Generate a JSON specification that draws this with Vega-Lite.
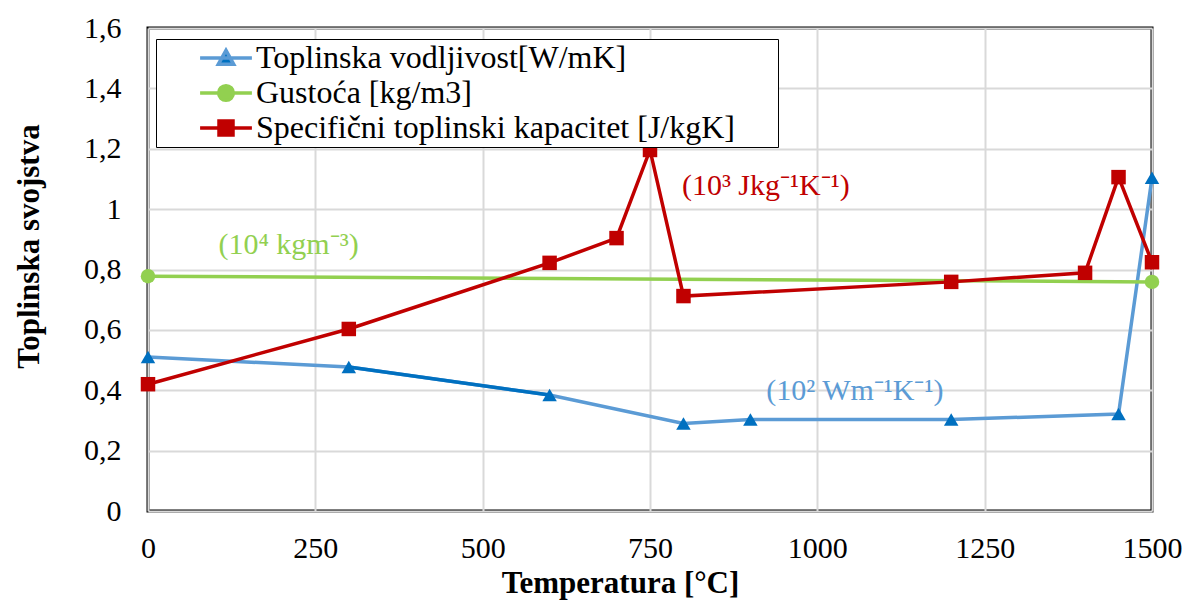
{
  "$schema": "https://vega.github.io/schema/vega-lite/v6.json",
  "width": 1004,
  "height": 483,
  "autosize": "none",
  "padding": {"left": 148, "top": 28, "right": 34, "bottom": 90},
  "background": "white",
  "config": {
    "font": "Liberation Serif",
    "view": {"stroke": "black", "strokeWidth": 3},
    "axis": {
      "labelFont": "Liberation Serif", "labelFontSize": 30, "labelColor": "black",
      "titleFont": "Liberation Serif", "titleFontSize": 31, "titleFontWeight": "bold", "titleColor": "black",
      "ticks": false, "tickSize": 0, "domain": false, "gridColor": "#d9d9d9", "gridWidth": 2,
      "labelFlush": false, "labelOverlap": false
    },
    "legend": {
      "orient": "none", "legendX": 8, "legendY": 11,
      "padding": 3, "rowPadding": 3,
      "strokeColor": "black", "fillColor": "white",
      "labelFont": "Liberation Serif", "labelFontSize": 32, "labelColor": "black", "labelLimit": 1000,
      "symbolSize": 196, "symbolOffset": 51, "labelOffset": 14, "symbolStrokeWidth": 3.5, "symbolOpacity": 1
    }
  },
  "datasets": {
    "main": [
      {"series": "Toplinska vodljivost[W/mK]", "T": 0, "value": 0.51},
      {"series": "Toplinska vodljivost[W/mK]", "T": 300, "value": 0.477},
      {"series": "Toplinska vodljivost[W/mK]", "T": 600, "value": 0.384},
      {"series": "Toplinska vodljivost[W/mK]", "T": 800, "value": 0.29},
      {"series": "Toplinska vodljivost[W/mK]", "T": 900, "value": 0.303},
      {"series": "Toplinska vodljivost[W/mK]", "T": 1200, "value": 0.303},
      {"series": "Toplinska vodljivost[W/mK]", "T": 1450, "value": 0.321},
      {"series": "Toplinska vodljivost[W/mK]", "T": 1500, "value": 1.104},
      {"series": "Gustoća [kg/m3]", "T": 0, "value": 0.778},
      {"series": "Gustoća [kg/m3]", "T": 1500, "value": 0.759},
      {"series": "Specifični toplinski kapacitet [J/kgK]", "T": 0, "value": 0.42},
      {"series": "Specifični toplinski kapacitet [J/kgK]", "T": 300, "value": 0.603},
      {"series": "Specifični toplinski kapacitet [J/kgK]", "T": 600, "value": 0.822},
      {"series": "Specifični toplinski kapacitet [J/kgK]", "T": 700, "value": 0.904},
      {"series": "Specifični toplinski kapacitet [J/kgK]", "T": 750, "value": 1.196},
      {"series": "Specifični toplinski kapacitet [J/kgK]", "T": 800, "value": 0.712},
      {"series": "Specifični toplinski kapacitet [J/kgK]", "T": 1200, "value": 0.759},
      {"series": "Specifični toplinski kapacitet [J/kgK]", "T": 1400, "value": 0.789},
      {"series": "Specifični toplinski kapacitet [J/kgK]", "T": 1450, "value": 1.106},
      {"series": "Specifični toplinski kapacitet [J/kgK]", "T": 1500, "value": 0.824}
    ],
    "notes": [
      {"series": "C", "T": 923, "value": 1.077, "label": "(10³ Jkg⁻¹K⁻¹)"},
      {"series": "B", "T": 210, "value": 0.881, "label": "(10⁴ kgm⁻³)"},
      {"series": "A", "T": 1056, "value": 0.397, "label": "(10² Wm⁻¹K⁻¹)"}
    ]
  },
  "layer": [
    {
      "data": {"name": "main"},
      "mark": {"type": "line", "strokeWidth": 3.5},
      "encoding": {
        "x": {
          "field": "T", "type": "quantitative",
          "scale": {"domain": [0, 1500], "nice": false, "zero": false},
          "axis": {
            "values": [0, 250, 500, 750, 1000, 1250, 1500], "format": "d",
            "title": "Temperatura [°C]", "labelPadding": 22,
            "titleX": 472, "titleY": 72, "titleBaseline": "middle", "titleAlign": "center"
          }
        },
        "y": {
          "field": "value", "type": "quantitative",
          "scale": {"domain": [0, 1.6], "nice": false},
          "axis": {
            "values": [0, 0.2, 0.4, 0.6, 0.8, 1, 1.2, 1.4, 1.6],
            "labelExpr": "replace(format(datum.value, '~g'), '.', ',')",
            "title": "Toplinska svojstva", "labelPadding": 27,
            "titleX": -119, "titleY": 218, "titleBaseline": "middle", "titleAlign": "center", "titleAngle": -90
          }
        },
        "color": {
          "field": "series", "type": "nominal",
          "scale": {
            "domain": ["Toplinska vodljivost[W/mK]", "Gustoća [kg/m3]", "Specifični toplinski kapacitet [J/kgK]"],
            "range": ["#5B9BD5", "#92D050", "#C00000"]
          },
          "legend": null
        }
      }
    },
    {
      "data": {"name": "main"},
      "transform": [{"filter": "datum.series == 'Toplinska vodljivost[W/mK]' && datum.T >= 300 && datum.T <= 600"}],
      "mark": {"type": "line", "strokeWidth": 3.5, "color": "#0070C0"},
      "encoding": {
        "x": {"field": "T", "type": "quantitative"},
        "y": {"field": "value", "type": "quantitative"}
      }
    },
    {
      "data": {"name": "main"},
      "mark": {"type": "point", "filled": true, "opacity": 1, "size": 210},
      "encoding": {
        "x": {"field": "T", "type": "quantitative"},
        "y": {"field": "value", "type": "quantitative"},
        "shape": {
          "field": "series", "type": "nominal",
          "scale": {
            "domain": ["Toplinska vodljivost[W/mK]", "Gustoća [kg/m3]", "Specifični toplinski kapacitet [J/kgK]"],
            "range": ["triangle-up", "circle", "square"]
          },
          "legend": null
        },
        "color": {
          "field": "series", "type": "nominal",
          "scale": {
            "domain": ["Toplinska vodljivost[W/mK]", "Gustoća [kg/m3]", "Specifični toplinski kapacitet [J/kgK]"],
            "range": ["#0070C0", "#92D050", "#C00000"]
          },
          "legend": null
        }
      }
    },
    {
      "data": {"name": "main"},
      "transform": [{"filter": "false"}],
      "mark": {"type": "point", "filled": true, "opacity": 1, "size": 196, "strokeWidth": 3.5},
      "encoding": {
        "x": {"field": "T", "type": "quantitative"},
        "y": {"field": "value", "type": "quantitative"},
        "shape": {
          "field": "series", "type": "nominal",
          "scale": {
            "domain": ["Toplinska vodljivost[W/mK]", "Gustoća [kg/m3]", "Specifični toplinski kapacitet [J/kgK]"],
            "range": [
              "M-3.7,0H3.7M0,-1.1L1.1,0.9L-1.1,0.9Z",
              "M-3.7,0H3.7M1.05,0A1.05,1.05,0,1,1,-1.05,0A1.05,1.05,0,1,1,1.05,0Z",
              "M-3.7,0H3.7M-1,-1H1V1H-1Z"
            ]
          },
          "legend": {"title": null, "labelExpr": "datum.label + '\u00a0\u00a0\u00a0\u00a0\u00a0\u200b'"}
        },
        "fill": {
          "field": "series", "type": "nominal",
          "scale": {
            "domain": ["Toplinska vodljivost[W/mK]", "Gustoća [kg/m3]", "Specifični toplinski kapacitet [J/kgK]"],
            "range": ["#0070C0", "#92D050", "#C00000"]
          },
          "legend": {"title": null, "labelExpr": "datum.label + '\u00a0\u00a0\u00a0\u00a0\u00a0\u200b'"}
        },
        "stroke": {
          "field": "series", "type": "nominal",
          "scale": {
            "domain": ["Toplinska vodljivost[W/mK]", "Gustoća [kg/m3]", "Specifični toplinski kapacitet [J/kgK]"],
            "range": ["#5B9BD5", "#92D050", "#C00000"]
          },
          "legend": {"title": null, "labelExpr": "datum.label + '\u00a0\u00a0\u00a0\u00a0\u00a0\u200b'"}
        }
      }
    },
    {
      "data": {"name": "notes"},
      "transform": [{"filter": "datum.series == 'C'"}],
      "mark": {"type": "text", "color": "#C00000", "fontSize": 30, "font": "Liberation Serif", "align": "center", "baseline": "middle"},
      "encoding": {
        "x": {"field": "T", "type": "quantitative"},
        "y": {"field": "value", "type": "quantitative"},
        "text": {"field": "label"}
      }
    },
    {
      "data": {"name": "notes"},
      "transform": [{"filter": "datum.series == 'B'"}],
      "mark": {"type": "text", "color": "#92D050", "fontSize": 30, "font": "Liberation Serif", "align": "center", "baseline": "middle"},
      "encoding": {
        "x": {"field": "T", "type": "quantitative"},
        "y": {"field": "value", "type": "quantitative"},
        "text": {"field": "label"}
      }
    },
    {
      "data": {"name": "notes"},
      "transform": [{"filter": "datum.series == 'A'"}],
      "mark": {"type": "text", "color": "#5B9BD5", "fontSize": 30, "font": "Liberation Serif", "align": "center", "baseline": "middle"},
      "encoding": {
        "x": {"field": "T", "type": "quantitative"},
        "y": {"field": "value", "type": "quantitative"},
        "text": {"field": "label"}
      }
    }
  ],
  "resolve": {"scale": {"color": "independent", "shape": "independent", "fill": "independent", "stroke": "independent"}}
}
